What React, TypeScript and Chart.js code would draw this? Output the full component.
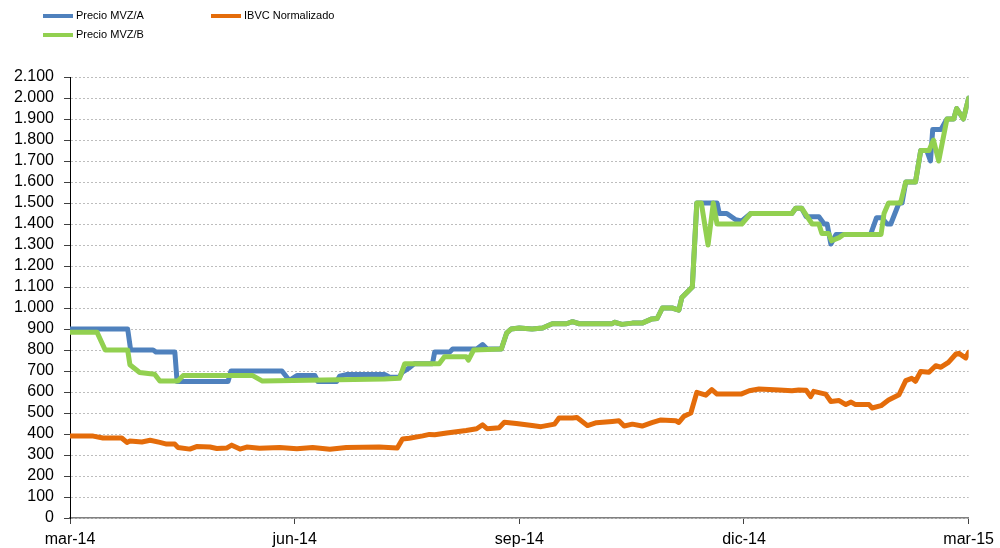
import React, { useEffect, useRef } from "react";
import { Chart, registerables } from "chart.js";

Chart.register(...registerables);

const X_TICK_MONTHS = [0, 3, 6, 9, 12];
const X_TICK_LABELS = ["mar-14", "jun-14", "sep-14", "dic-14", "mar-15"];

const SERIES_NAMES = ["Precio MVZ/A", "IBVC Normalizado", "Precio MVZ/B"];

// months elapsed since mar-14
const mvzAMonths = [
  0, 0.77, 0.81, 1.11, 1.15, 1.4, 1.43, 2.11, 2.15, 2.83, 2.93, 3.03, 3.27, 3.31, 3.56, 3.6, 3.69, 4.2, 4.27, 4.4,
  4.44, 4.53, 4.6, 4.84, 4.87, 5.07, 5.11, 5.43, 5.51, 5.57, 5.76, 5.83, 5.89, 6.0, 6.17, 6.31, 6.44, 6.63, 6.71,
  6.8, 7.24, 7.27, 7.37, 7.51, 7.64, 7.77, 7.84, 7.91, 8.04, 8.13, 8.17, 8.31, 8.37, 8.64, 8.67, 8.77, 8.89, 8.97,
  9.09, 9.64, 9.69, 9.77, 9.83, 10.0, 10.07, 10.11, 10.16, 10.23, 10.69, 10.77, 10.84, 10.91, 10.96, 11.07, 11.11,
  11.16, 11.29, 11.36, 11.44, 11.49, 11.52, 11.63, 11.71, 11.8, 11.84, 11.93, 12.0,
];
const mvzA = [
  900, 900, 800, 800, 790, 790, 650, 650, 700, 700, 655, 678, 678, 650, 650, 675, 683, 683, 670, 672,
  695, 715, 735, 735, 790, 790, 805, 805, 826, 805, 805, 880, 900, 905, 900, 905, 925, 925, 935,
  925, 925, 932, 922, 928, 928, 948, 950, 1000, 1000, 990, 1050, 1100, 1500, 1500, 1450, 1450, 1420, 1415,
  1450, 1450, 1475, 1475, 1435, 1435, 1400, 1400, 1305, 1350, 1350, 1430, 1430, 1400, 1400, 1500, 1500,
  1600, 1600, 1750, 1750, 1700, 1850, 1850, 1900, 1900, 1950, 1900, 2000,
];

const mvzBMonths = [
  0, 0.36, 0.47, 0.77, 0.8, 0.93, 1.13, 1.2, 1.44, 1.51, 2.44, 2.57, 4.2, 4.4, 4.47, 4.93, 5.0, 5.29, 5.32, 5.39,
  5.76, 5.83, 5.89, 6.0, 6.17, 6.31, 6.44, 6.63, 6.71, 6.8, 7.24, 7.27, 7.37, 7.51, 7.64, 7.77, 7.84, 7.91, 8.04,
  8.13, 8.17, 8.31, 8.37, 8.43, 8.52, 8.59, 8.64, 8.97, 9.09, 9.64, 9.69, 9.77, 9.91, 10.0, 10.04, 10.13, 10.17,
  10.27, 10.33, 10.83, 10.87, 10.93, 11.09, 11.16, 11.29, 11.36, 11.47, 11.53, 11.6, 11.71, 11.8, 11.84, 11.93,
  12.0,
];
const mvzB = [
  885, 885, 800, 800, 730, 693, 685, 652, 652, 678, 678, 652, 662, 665, 735, 735, 768, 768, 752, 800,
  805, 880, 900, 905, 900, 905, 925, 925, 935, 925, 925, 932, 922, 928, 928, 948, 950, 1000, 1000,
  990, 1050, 1100, 1500, 1500, 1300, 1500, 1400, 1400, 1450, 1450, 1475, 1475, 1400, 1400, 1355, 1355, 1320,
  1335, 1350, 1350, 1450, 1500, 1500, 1600, 1600, 1750, 1750, 1800, 1700, 1900, 1900, 1950, 1900,
  2000,
];

const ibvcMonths = [
  0, 0.31, 0.44, 0.69, 0.76, 0.8, 0.96, 1.07, 1.2, 1.29, 1.4, 1.44, 1.6, 1.69, 1.87, 1.96, 2.09, 2.16, 2.27, 2.36,
  2.53, 2.8, 3.03, 3.24, 3.47, 3.69, 4.13, 4.37, 4.44, 4.53, 4.71, 4.8, 4.87, 5.03, 5.29, 5.43, 5.51, 5.57, 5.73,
  5.8, 5.96, 6.17, 6.29, 6.47, 6.53, 6.71, 6.77, 6.91, 7.03, 7.24, 7.33, 7.4, 7.51, 7.64, 7.77, 7.89, 8.09, 8.13,
  8.2, 8.29, 8.37, 8.49, 8.57, 8.64, 8.96, 9.07, 9.2, 9.47, 9.64, 9.73, 9.83, 9.89, 9.93, 10.09, 10.16, 10.27,
  10.36, 10.43, 10.49, 10.67, 10.71, 10.83, 10.93, 11.07, 11.16, 11.24, 11.29, 11.36, 11.47, 11.56, 11.63, 11.73,
  11.83, 11.87, 11.96, 12.0,
];
const ibvc = [
  391, 390, 381, 381, 360, 367, 362, 370, 360, 352, 352, 336, 328, 340, 338, 331, 333, 347, 328, 338,
  332, 336, 330, 336, 327, 336, 338, 333, 376, 380, 391, 398, 396, 405, 417, 425, 444, 425, 430,
  456, 450, 440, 435, 447, 476, 476, 479, 440, 454, 460, 463, 438, 447, 438, 454, 467, 463, 455,
  485, 500, 598, 585, 611, 590, 590, 606, 614, 609, 606, 610, 608, 578, 603, 590, 555, 559,
  540, 552, 540, 540, 524, 535, 562, 587, 654, 665, 651, 698, 694, 725, 718, 741,
  781, 784, 762, 789,
];

const COLORS = { a: "#4F81BD", ibvc: "#E46C0A", b: "#92D050" };
const FONT = "'Liberation Sans', Arial, sans-serif";

const toPoints = (xs: number[], ys: number[]) => xs.map((x, i) => ({ x, y: ys[i] }));

const legendPlugin = {
  id: "customLegend",
  afterDraw(chart: any) {
    const ctx = chart.ctx;
    const items = [
      { name: SERIES_NAMES[0], color: COLORS.a, x: 43, y: 16 },
      { name: SERIES_NAMES[1], color: COLORS.ibvc, x: 211, y: 16 },
      { name: SERIES_NAMES[2], color: COLORS.b, x: 43, y: 35 },
    ];
    ctx.save();
    ctx.font = `11px ${FONT}`;
    ctx.textBaseline = "middle";
    ctx.textAlign = "left";
    for (const it of items) {
      ctx.strokeStyle = it.color;
      ctx.lineWidth = 4;
      ctx.lineCap = "butt";
      ctx.beginPath();
      ctx.moveTo(it.x, it.y);
      ctx.lineTo(it.x + 30, it.y);
      ctx.stroke();
      ctx.fillStyle = "#000";
      ctx.fillText(it.name, it.x + 33, it.y);
    }
    ctx.restore();
  },
};

export default function App() {
  const ref = useRef<HTMLCanvasElement | null>(null);

  useEffect(() => {
    document.body.style.margin = "0";
    if (!ref.current) return;
    const lineCommon = {
      pointRadius: 0,
      pointHoverRadius: 0,
      borderWidth: 5,
      tension: 0,
      fill: false,
      borderJoinStyle: "round" as const,
      borderCapStyle: "round" as const,
    };
    const chart = new Chart(ref.current, {
      type: "line",
      data: {
        datasets: [
          { ...lineCommon, label: SERIES_NAMES[2], data: toPoints(mvzBMonths, mvzB), borderColor: COLORS.b, backgroundColor: COLORS.b },
          { ...lineCommon, label: SERIES_NAMES[0], data: toPoints(mvzAMonths, mvzA), borderColor: COLORS.a, backgroundColor: COLORS.a },
          { ...lineCommon, label: SERIES_NAMES[1], data: toPoints(ibvcMonths, ibvc), borderColor: COLORS.ibvc, backgroundColor: COLORS.ibvc },
        ],
      },
      options: {
        animation: false,
        responsive: false,
        maintainAspectRatio: false,
        layout: { padding: { top: 77, right: 30, left: 0, bottom: 0 } },
        plugins: { legend: { display: false }, tooltip: { enabled: false } },
        scales: {
          x: {
            type: "linear",
            min: 0,
            max: 12,
            afterBuildTicks: (scale: any) => {
              scale.ticks = X_TICK_MONTHS.map((v) => ({ value: v }));
            },
            afterFit: (scale: any) => {
              scale.height = 30;
            },
            ticks: {
              autoSkip: false,
              maxRotation: 0,
              padding: 6,
              color: "#000",
              font: { family: FONT, size: 16 },
              callback: (v: any) => {
                const i = X_TICK_MONTHS.indexOf(Number(v));
                return i >= 0 ? X_TICK_LABELS[i] : "";
              },
            },
            grid: { drawOnChartArea: false, drawTicks: true, tickLength: 6, tickColor: "#404040", tickWidth: 1 },
            border: { display: true, color: "#808080", width: 1.5 },
          },
          y: {
            min: 0,
            max: 2100,
            afterFit: (scale: any) => {
              scale.width = 70;
            },
            ticks: {
              stepSize: 100,
              autoSkip: false,
              padding: 10,
              color: "#000",
              font: { family: FONT, size: 16 },
              callback: (v: any) => Number(v).toLocaleString("de-DE"),
            },
            grid: {
              color: "#bdbdbd",
              lineWidth: 1,
              drawTicks: true,
              tickLength: 6,
              tickColor: "#404040",
              tickWidth: 1,
              tickBorderDash: [],
            },
            border: { display: true, color: "#000", width: 1, dash: [2, 2] },
          },
        },
      },
      plugins: [legendPlugin],
    });
    return () => chart.destroy();
  }, []);

  return (
    <div style={{ position: "relative", width: 1000, height: 548 }}>
      <canvas ref={ref} width={1000} height={548} style={{ display: "block" }} />
    </div>
  );
}
